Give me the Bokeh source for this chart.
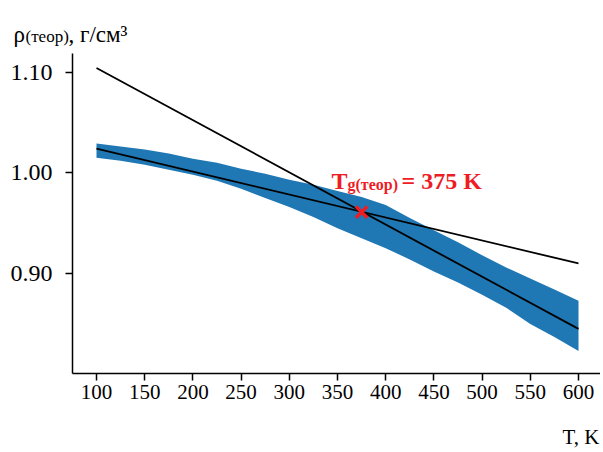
from bokeh.plotting import figure
from bokeh.models import Range1d, FixedTicker, Label, NumeralTickFormatter
from bokeh.embed import file_html
from bokeh.resources import INLINE

# ---- data ----
temperature_k = [100, 125, 150, 175, 200, 225, 250, 275, 300, 325, 350,
                 375, 400, 425, 450, 475, 500, 525, 550, 575, 600]
density_upper = [1.029, 1.026, 1.023, 1.019, 1.014, 1.010, 1.004, 0.999, 0.993, 0.988, 0.982,
                 0.976, 0.968, 0.955, 0.943, 0.931, 0.918, 0.906, 0.895, 0.884, 0.873]
density_lower = [1.015, 1.012, 1.008, 1.003, 0.998, 0.992, 0.984, 0.975, 0.966, 0.956, 0.945,
                 0.935, 0.925, 0.914, 0.902, 0.891, 0.879, 0.866, 0.850, 0.837, 0.823]

fit_glass_t = [100, 600]
fit_glass_rho = [1.024, 0.910]
fit_melt_t = [100, 600]
fit_melt_rho = [1.104, 0.845]

tg_t = [375]
tg_rho = [0.961]

x_ticks = [100, 150, 200, 250, 300, 350, 400, 450, 500, 550, 600]
y_ticks = [0.90, 1.00, 1.10]

# ---- layout (pixel geometry of the canvas) ----
W, H = 600, 448
AX_LEFT, AX_RIGHT, AX_TOP, AX_BOTTOM = 72, 600, 53, 373
SERIF = "Liberation Serif"
RED = "#ee1c25"


def sx(px):
    # canvas pixel -> temperature (100 K at px 96, 0.964 px per K)
    return 100 + (px - 96) / 0.964


def sy(py):
    # canvas pixel -> density (1.10 at px 71.5, 1007.5 px per unit)
    return 1.10 - (py - 71.5) / 1007.5


p = figure(width=W, height=H, x_range=Range1d(sx(0), sx(W)), y_range=Range1d(sy(H), sy(0)),
           output_backend="svg", toolbar_location=None,
           min_border_left=0, min_border_right=0, min_border_top=0, min_border_bottom=0)
p.outline_line_color = None
p.xgrid.visible = False
p.ygrid.visible = False
p.background_fill_color = "white"
p.border_fill_color = "white"

p.varea(x=temperature_k, y1=density_lower, y2=density_upper, fill_color="#1f77b4")
p.line(fit_glass_t, fit_glass_rho, line_color="black", line_width=1.8)
p.line(fit_melt_t, fit_melt_rho, line_color="black", line_width=1.8)
p.scatter(tg_t, tg_rho, marker="x", size=16, line_color=RED, line_width=3.5)

for ax in (p.xaxis[0], p.yaxis[0]):
    ax.axis_line_color = "black"
    ax.axis_line_width = 1.5
    ax.major_tick_line_color = "black"
    ax.major_tick_line_width = 1.5
    ax.major_tick_out = 7
    ax.major_tick_in = 0
    ax.minor_tick_line_color = None
    ax.major_label_text_font = SERIF
    ax.major_label_text_color = "black"

p.xaxis.fixed_location = sy(AX_BOTTOM)
p.xaxis.bounds = (sx(AX_LEFT), sx(AX_RIGHT))
p.yaxis.fixed_location = sx(AX_LEFT)
p.yaxis.bounds = (sy(AX_BOTTOM), sy(AX_TOP))

p.xaxis.ticker = FixedTicker(ticks=x_ticks)
p.yaxis.ticker = FixedTicker(ticks=y_ticks)
p.yaxis.formatter = NumeralTickFormatter(format="0.00")
p.xaxis.major_label_text_font_size = "21px"
p.yaxis.major_label_text_font_size = "24px"
p.xaxis.major_label_standoff = 4
p.yaxis.major_label_standoff = 13


def add_label(px, py, text, size, color="black", bold=False):
    p.add_layout(Label(x=sx(px), y=sy(py), text=text, text_font=SERIF,
                       text_font_size=size, text_color=color,
                       text_font_style="bold" if bold else "normal",
                       text_align="left", text_baseline="alphabetic"))


# y axis title
add_label(13, 34, "ρ", "23px")
add_label(25, 36, "(теор)", "17px")
add_label(68, 34, ", г/см³", "23px")
# x axis title
add_label(562, 436, "T, K", "21px")
# Tg annotation
add_label(331, 180, "T", "24px", RED, True)
add_label(347, 184, "g(теор)", "16px", RED, True)
add_label(401, 180, "= 375 K", "24px", RED, True)

open("out.html", "w").write(file_html(p, INLINE))
